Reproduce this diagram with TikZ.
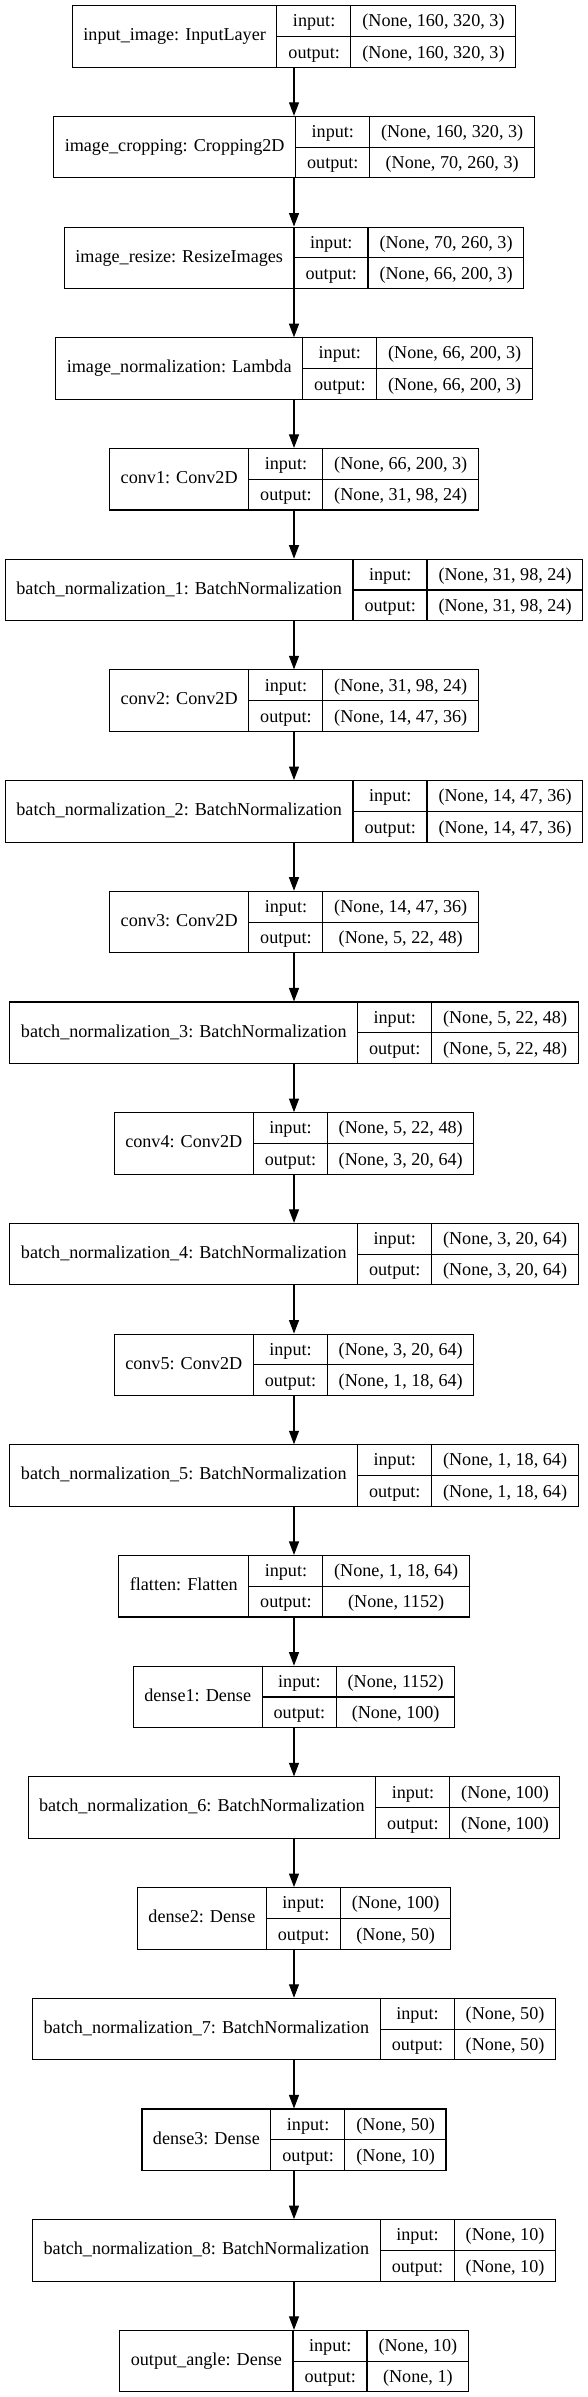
\documentclass[tikz,border=0pt]{standalone}
\usepackage{fontspec}
\setmainfont{Liberation Serif}
\usepackage{tikz}
\usetikzlibrary{arrows.meta}

\setlength{\tabcolsep}{11pt}
\setlength{\arrayrulewidth}{1.1pt}
\renewcommand{\arraystretch}{1.387}
\newcommand{\layerrec}[3]{\begin{tabular}{c|@{}c@{}|@{}c@{}}#1 & \begin{tabular}{c}input:\\\hline output:\end{tabular} & \begin{tabular}{c}#2\\\hline #3\end{tabular}\end{tabular}}

\tikzset{
  layer/.style={draw, line width=1.1pt, inner sep=0pt, font=\fontsize{18.15}{21.78}\selectfont},
  flow/.style={line width=1.1pt, -{Triangle[length=13.5pt,width=10pt]}}
}

\begin{document}
\begin{tikzpicture}[x=1pt,y=1pt,yscale=-1,xscale=1]
        \useasboundingbox (0,0) rectangle (588,2397);

        % Layer nodes
        \node [layer] (inimg) at (294,36.45) {\layerrec{input\_image: InputLayer}{(None, 160, 320, 3)}{(None, 160, 320, 3)}};
        \node [layer] (crop) at (294,147.15) {\layerrec{image\_cropping: Cropping2D}{(None, 160, 320, 3)}{(None, 70, 260, 3)}};
        \node [layer] (resize) at (294,257.85) {\layerrec{image\_resize: ResizeImages}{(None, 70, 260, 3)}{(None, 66, 200, 3)}};
        \node [layer] (norm) at (294,368.55) {\layerrec{image\_normalization: Lambda}{(None, 66, 200, 3)}{(None, 66, 200, 3)}};
        \node [layer] (conv1) at (294,479.25) {\layerrec{conv1: Conv2D}{(None, 66, 200, 3)}{(None, 31, 98, 24)}};
        \node [layer] (bn1) at (294,589.95) {\layerrec{batch\_normalization\_1: BatchNormalization}{(None, 31, 98, 24)}{(None, 31, 98, 24)}};
        \node [layer] (conv2) at (294,700.65) {\layerrec{conv2: Conv2D}{(None, 31, 98, 24)}{(None, 14, 47, 36)}};
        \node [layer] (bn2) at (294,811.35) {\layerrec{batch\_normalization\_2: BatchNormalization}{(None, 14, 47, 36)}{(None, 14, 47, 36)}};
        \node [layer] (conv3) at (294,922.05) {\layerrec{conv3: Conv2D}{(None, 14, 47, 36)}{(None, 5, 22, 48)}};
        \node [layer] (bn3) at (294,1032.75) {\layerrec{batch\_normalization\_3: BatchNormalization}{(None, 5, 22, 48)}{(None, 5, 22, 48)}};
        \node [layer] (conv4) at (294,1143.45) {\layerrec{conv4: Conv2D}{(None, 5, 22, 48)}{(None, 3, 20, 64)}};
        \node [layer] (bn4) at (294,1254.15) {\layerrec{batch\_normalization\_4: BatchNormalization}{(None, 3, 20, 64)}{(None, 3, 20, 64)}};
        \node [layer] (conv5) at (294,1364.85) {\layerrec{conv5: Conv2D}{(None, 3, 20, 64)}{(None, 1, 18, 64)}};
        \node [layer] (bn5) at (294,1475.55) {\layerrec{batch\_normalization\_5: BatchNormalization}{(None, 1, 18, 64)}{(None, 1, 18, 64)}};
        \node [layer] (flat) at (294,1586.25) {\layerrec{flatten: Flatten}{(None, 1, 18, 64)}{(None, 1152)}};
        \node [layer] (dense1) at (294,1696.95) {\layerrec{dense1: Dense}{(None, 1152)}{(None, 100)}};
        \node [layer] (bn6) at (294,1807.65) {\layerrec{batch\_normalization\_6: BatchNormalization}{(None, 100)}{(None, 100)}};
        \node [layer] (dense2) at (294,1918.35) {\layerrec{dense2: Dense}{(None, 100)}{(None, 50)}};
        \node [layer] (bn7) at (294,2029.05) {\layerrec{batch\_normalization\_7: BatchNormalization}{(None, 50)}{(None, 50)}};
        \node [layer] (dense3) at (294,2139.75) {\layerrec{dense3: Dense}{(None, 50)}{(None, 10)}};
        \node [layer] (bn8) at (294,2250.45) {\layerrec{batch\_normalization\_8: BatchNormalization}{(None, 10)}{(None, 10)}};
        \node [layer] (angle) at (294,2361.15) {\layerrec{output\_angle: Dense}{(None, 10)}{(None, 1)}};

        % Edges
        \draw [flow] (inimg) -- (crop);
        \draw [flow] (crop) -- (resize);
        \draw [flow] (resize) -- (norm);
        \draw [flow] (norm) -- (conv1);
        \draw [flow] (conv1) -- (bn1);
        \draw [flow] (bn1) -- (conv2);
        \draw [flow] (conv2) -- (bn2);
        \draw [flow] (bn2) -- (conv3);
        \draw [flow] (conv3) -- (bn3);
        \draw [flow] (bn3) -- (conv4);
        \draw [flow] (conv4) -- (bn4);
        \draw [flow] (bn4) -- (conv5);
        \draw [flow] (conv5) -- (bn5);
        \draw [flow] (bn5) -- (flat);
        \draw [flow] (flat) -- (dense1);
        \draw [flow] (dense1) -- (bn6);
        \draw [flow] (bn6) -- (dense2);
        \draw [flow] (dense2) -- (bn7);
        \draw [flow] (bn7) -- (dense3);
        \draw [flow] (dense3) -- (bn8);
        \draw [flow] (bn8) -- (angle);

    \end{tikzpicture}
\end{document}
